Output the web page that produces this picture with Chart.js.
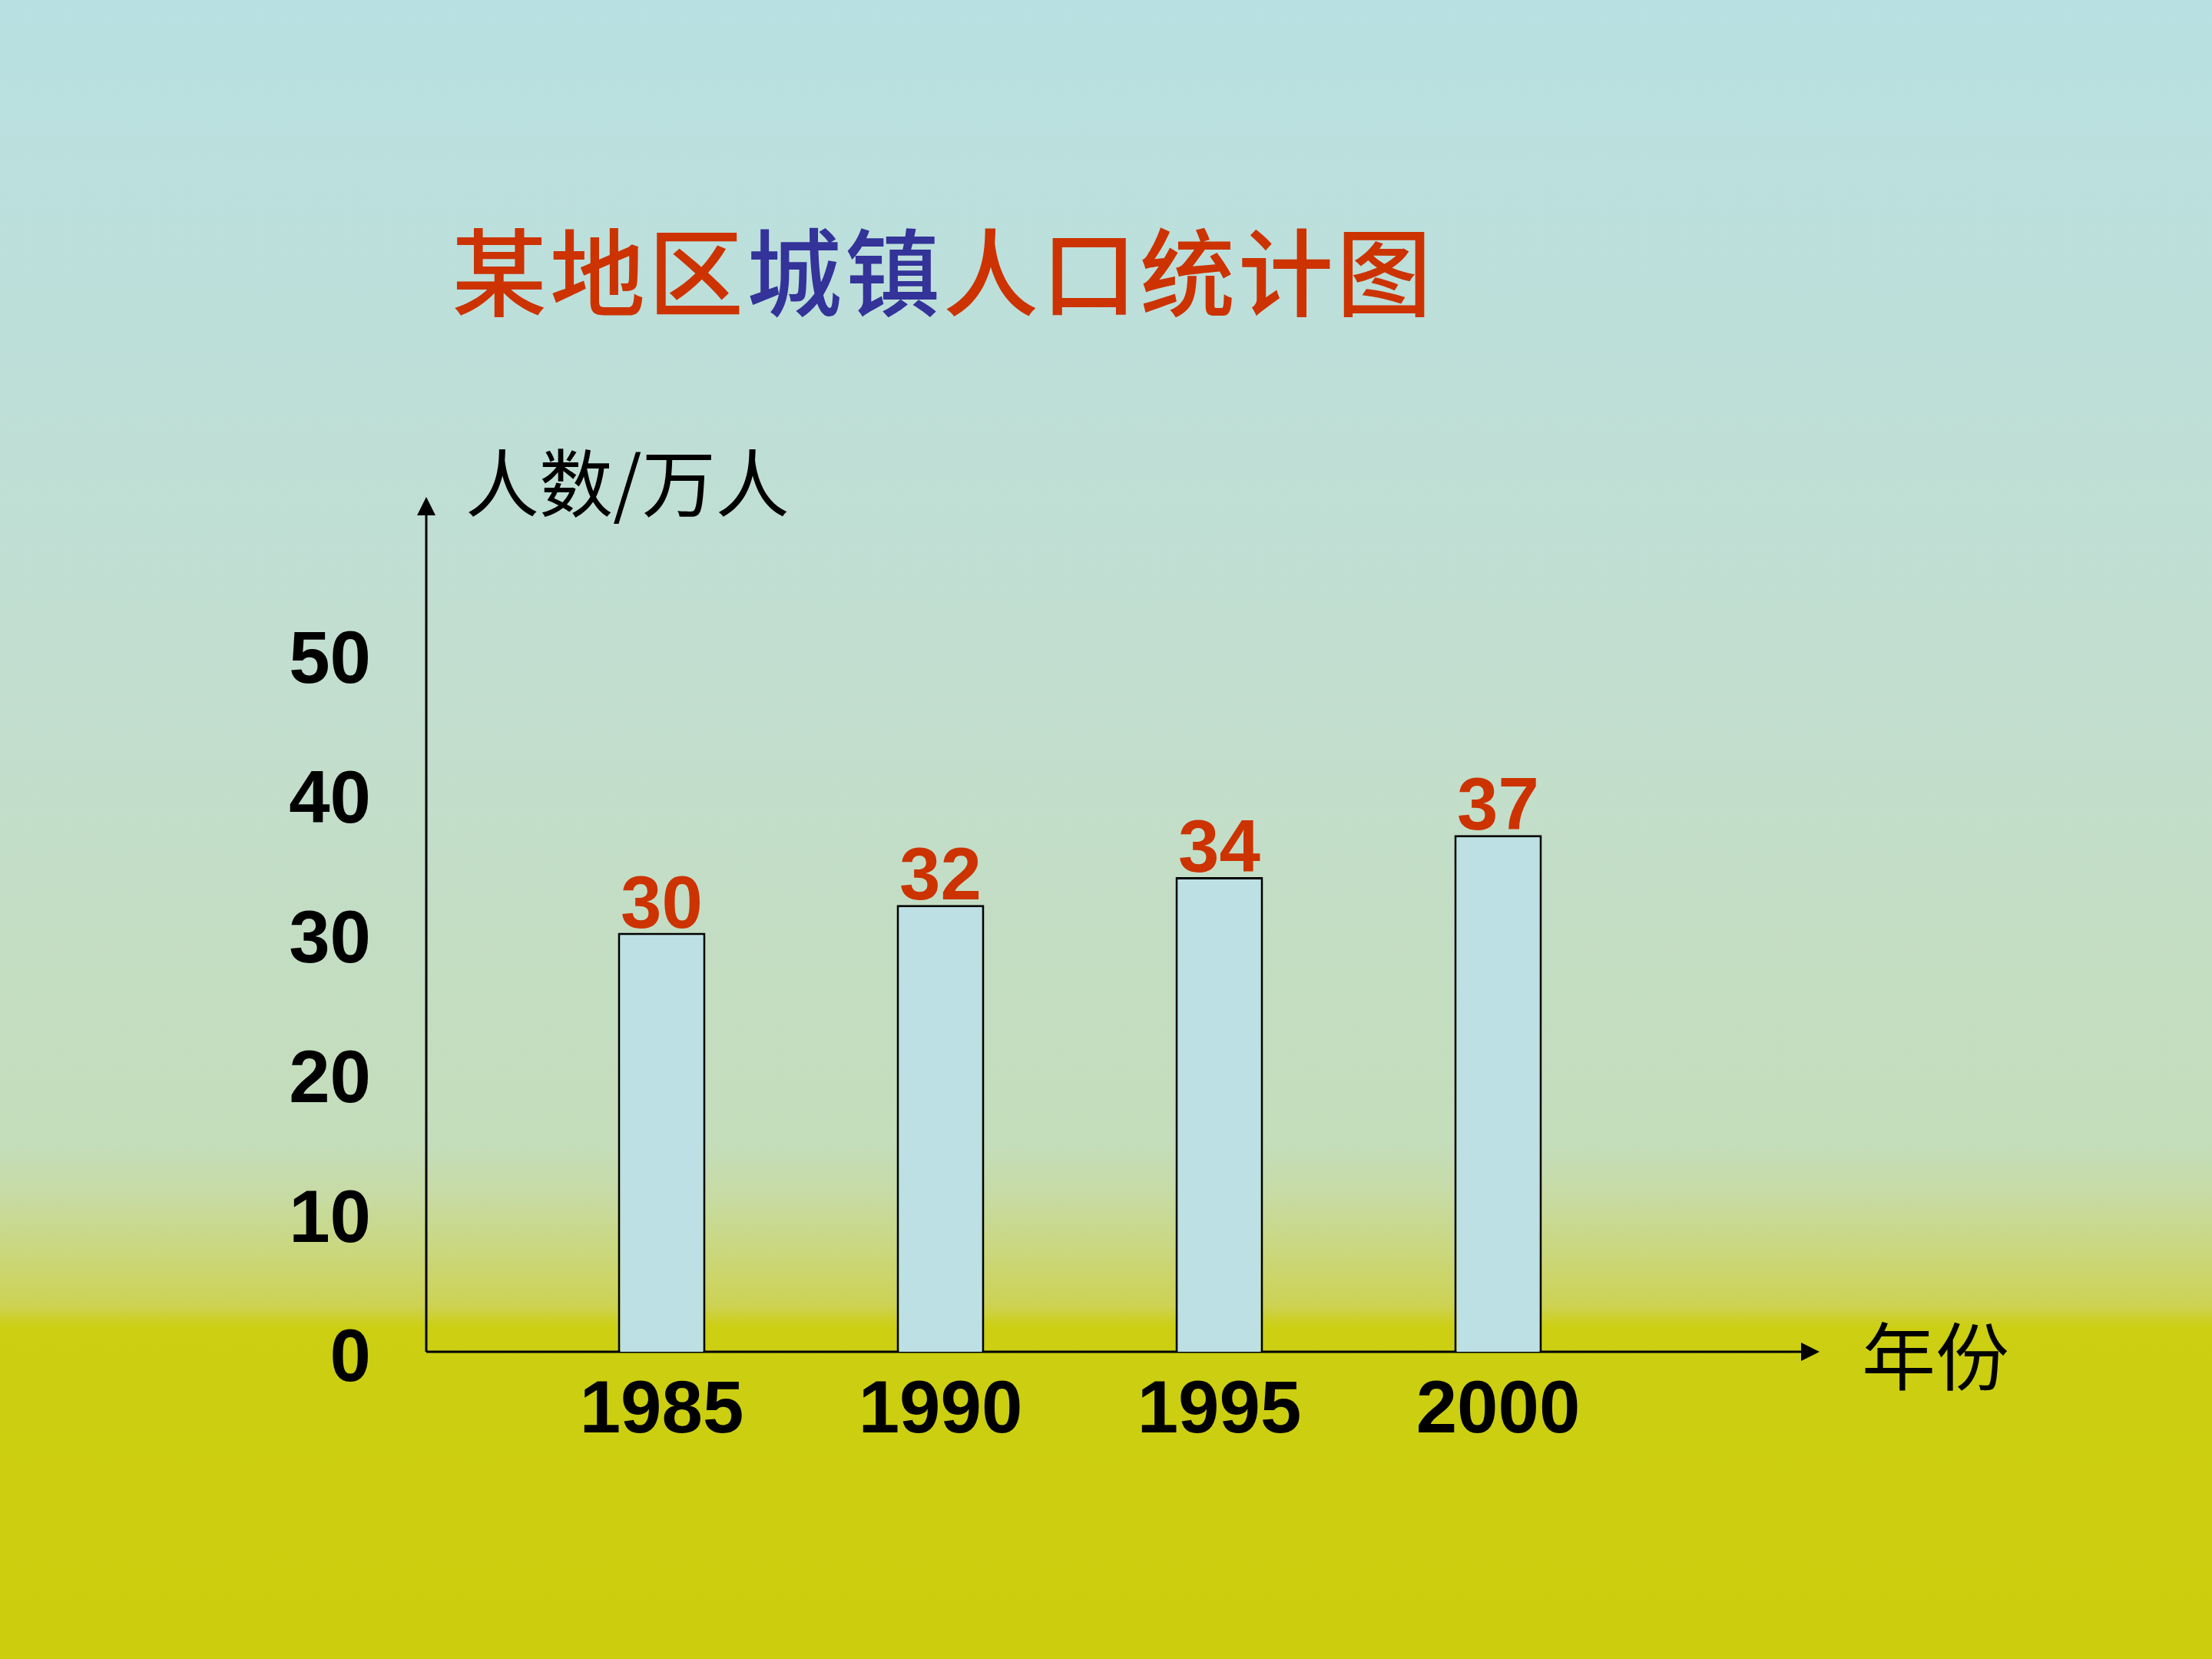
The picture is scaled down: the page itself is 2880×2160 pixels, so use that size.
<!DOCTYPE html>
<html>
<head>
<meta charset="utf-8">
<script src="https://cdn.jsdelivr.net/npm/chart.js@4/dist/chart.umd.min.js"></script>
<style>
  body {
    margin: 0;
    width: 2880px;
    height: 2160px;
    overflow: hidden;
    background: linear-gradient(to bottom, #b8e0e2 0%, #c2ded0 40%, #c4ddba 69%, #c7dba4 72%, #cad77c 75.5%, #cdd253 78.7%, #cdcf20 79.7%, #cccf12 80%, #cccd0c 100%);
    position: relative;
  }
  #box { position: absolute; left: 0; top: 0; width: 2880px; height: 2160px; }
  .txt { position: absolute; line-height: 1; white-space: nowrap; font-family: "Noto Sans CJK SC", sans-serif; }
  #title { left: 588px; top: 286px; font-size: 124px; font-weight: 500; letter-spacing: 4px; color: #cc3300; }
  #title .blue { color: #333399; }
  #ytitle { left: 606px; top: 576px; font-size: 96px; color: #000; }
  #xtitle { left: 2424px; top: 1713px; font-size: 96px; color: #000; }
</style>
</head>
<body>
<div class="txt" id="title">某地区<span class="blue">城镇</span>人口统计图</div>
<div class="txt" id="ytitle">人数/万人</div>
<div class="txt" id="xtitle">年份</div>
<div id="box"><canvas id="myChart"></canvas></div>
<script>
// data
var years = ["1985", "1990", "1995", "2000"];
var population = [30, 32, 34, 37];
var yMin = 0;
var yMax = 50;
var yStep = 10;

// axis lines with arrows, drawn past the plot area like the slide
var arrowAxes = {
  id: "arrowAxes",
  beforeDatasetsDraw: function (chart) {
    var ctx = chart.ctx;
    var y0 = chart.scales.y.getPixelForValue(0);
    var ax = chart.chartArea.left - 125;
    var topTip = 647;
    var rightTip = 2369;
    ctx.save();
    ctx.strokeStyle = "#000";
    ctx.fillStyle = "#000";
    ctx.lineWidth = 3;
    ctx.beginPath();
    ctx.moveTo(ax, y0);
    ctx.lineTo(ax, topTip + 20);
    ctx.moveTo(ax, y0);
    ctx.lineTo(rightTip - 20, y0);
    ctx.stroke();
    ctx.beginPath();
    ctx.moveTo(ax, topTip);
    ctx.lineTo(ax - 12, topTip + 24);
    ctx.lineTo(ax + 12, topTip + 24);
    ctx.closePath();
    ctx.fill();
    ctx.beginPath();
    ctx.moveTo(rightTip, y0);
    ctx.lineTo(rightTip - 24, y0 - 12);
    ctx.lineTo(rightTip - 24, y0 + 12);
    ctx.closePath();
    ctx.fill();
    ctx.restore();
  },
  // value labels above bars
  afterDatasetsDraw: function (chart) {
    var ctx = chart.ctx;
    var meta = chart.getDatasetMeta(0);
    ctx.save();
    ctx.fillStyle = "#cc3300";
    ctx.font = "bold 96px 'Liberation Sans', Arial, sans-serif";
    ctx.textAlign = "center";
    ctx.textBaseline = "alphabetic";
    for (var i = 0; i < meta.data.length; i++) {
      var bar = meta.data[i];
      ctx.fillText(String(population[i]), bar.x, bar.y - 7);
    }
    ctx.restore();
  },
};

var config = {
  type: "bar",
  data: {
    labels: years,
    datasets: [
      {
        data: population,
        backgroundColor: "#bce0e3",
        borderColor: "#000",
        borderWidth: 3,
        barPercentage: 0.314,
        categoryPercentage: 1,
      },
    ],
  },
  options: {
    responsive: true,
    maintainAspectRatio: false,
    animation: false,
    layout: {
      padding: { left: 0, top: 851, right: 748, bottom: 250 },
    },
    plugins: {
      legend: { display: false },
      tooltip: { enabled: false },
    },
    scales: {
      x: {
        grid: { display: false, drawTicks: false },
        border: { display: false },
        ticks: {
          color: "#000",
          padding: 21,
          font: { family: "'Liberation Sans', Arial, sans-serif", size: 96, weight: "bold" },
        },
        afterFit: function (scale) {
          scale.height = 150;
        },
      },
      y: {
        min: yMin,
        max: yMax,
        grid: { display: false, drawTicks: false },
        border: { display: false },
        ticks: {
          stepSize: yStep,
          color: "#000",
          padding: 197,
          labelOffset: 12,
          font: { family: "'Liberation Sans', Arial, sans-serif", size: 96, weight: "bold" },
        },
        afterFit: function (scale) {
          scale.width = 680;
        },
      },
    },
  },
  plugins: [arrowAxes],
};

var myChart = new Chart(document.getElementById("myChart"), config);
</script>
</body>
</html>
